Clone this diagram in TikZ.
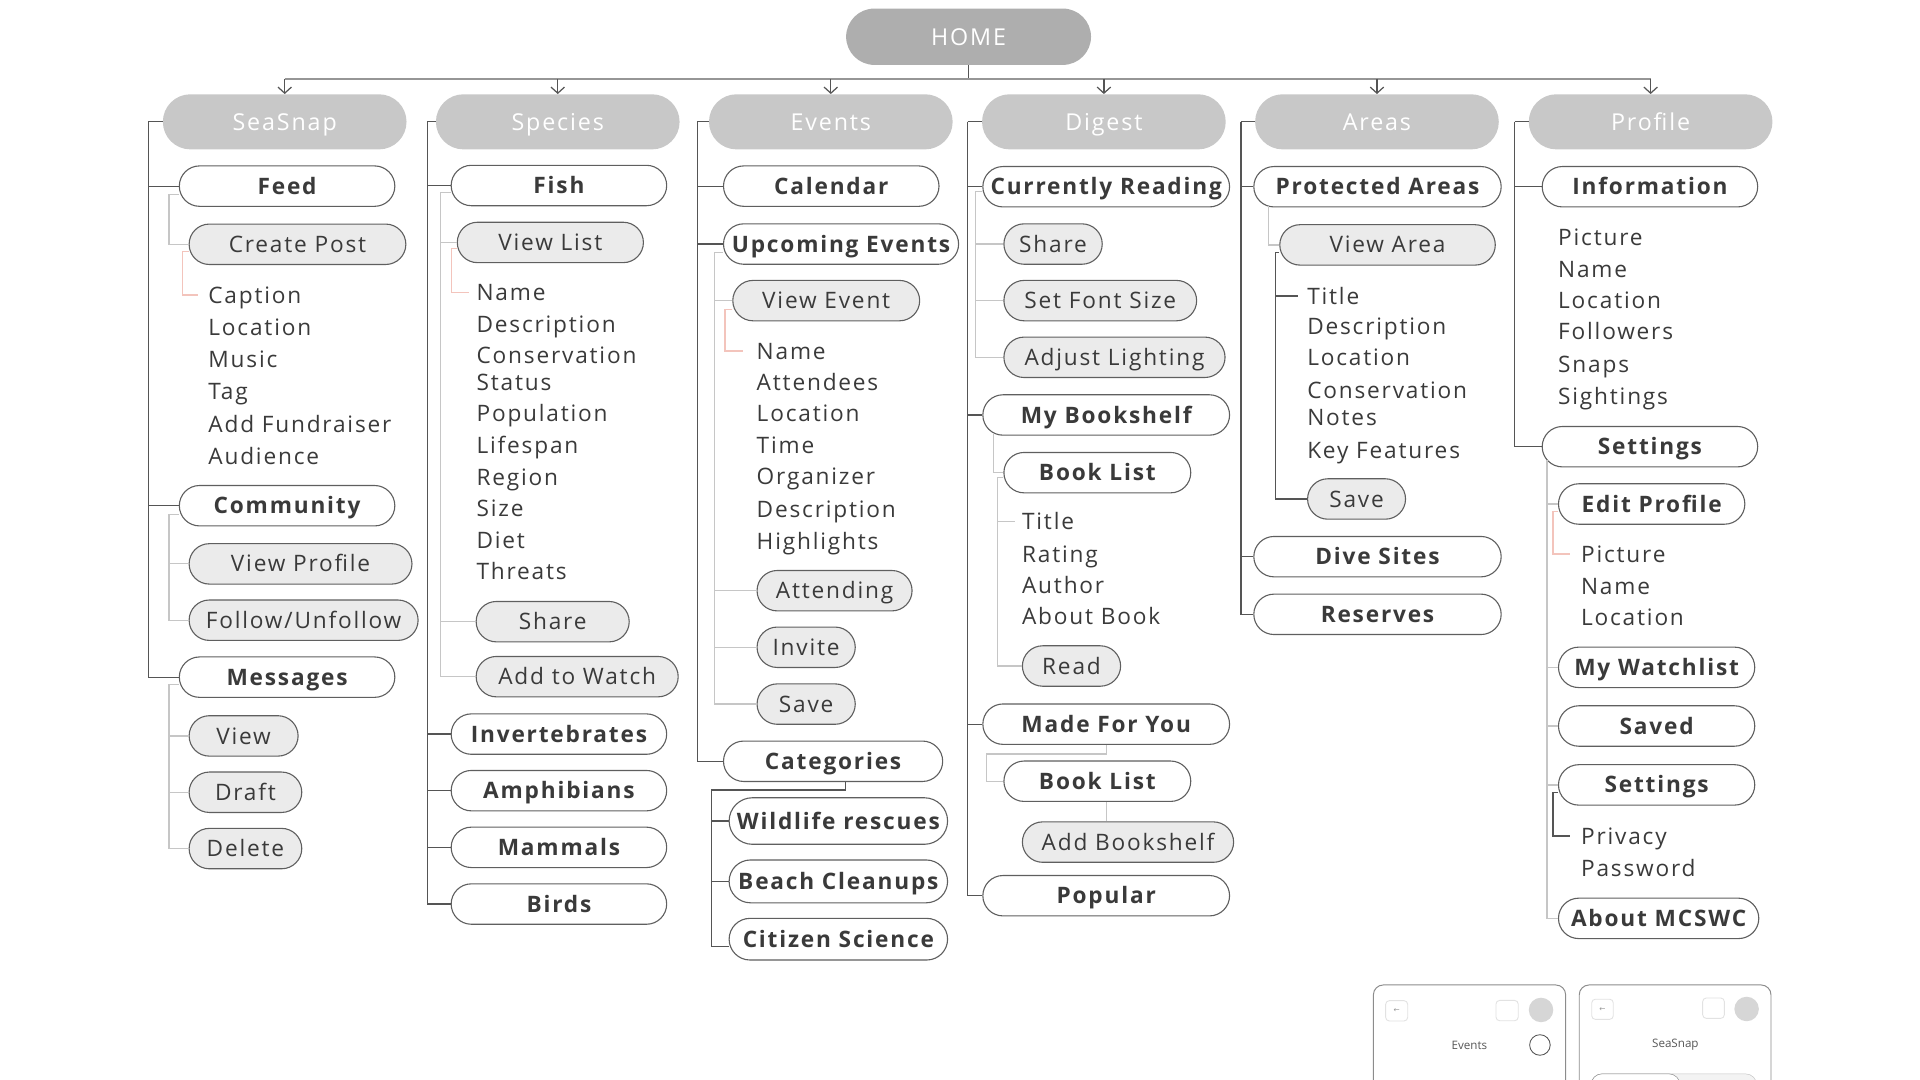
\documentclass[tikz,border=0pt]{standalone}
\usepackage{fontspec}
\IfFontExistsTF{Open Sans SemiBold}
  {\setmainfont{Open Sans}[LetterSpace=8, BoldFont={Open Sans SemiBold}]}
  {\setmainfont{Open Sans}[LetterSpace=8]}
\newfontfamily\mockfont{Open Sans}
\newfontfamily\arrowfont{DejaVu Sans}
\usepackage{tikz}
\usetikzlibrary{positioning, arrows.meta, calc}
\definecolor{ink}{RGB}{58,58,58}
\definecolor{pillline}{RGB}{95,95,95}
\definecolor{chipgrey}{RGB}{235,235,235}
\definecolor{hdrgrey}{RGB}{200,200,200}
\definecolor{homegrey}{RGB}{174,174,174}
\definecolor{trunkgrey}{RGB}{85,85,85}
\definecolor{twiggrey}{RGB}{198,198,198}
\definecolor{blushpink}{RGB}{243,196,188}
\definecolor{busgrey}{RGB}{150,150,150}
\definecolor{dotgrey}{RGB}{214,214,214}
\definecolor{btnline}{RGB}{226,226,226}
\definecolor{cardline}{RGB}{140,140,140}
\newcommand{\itemfont}{\fontsize{18.5}{22}\selectfont}
\newcommand{\hdrfont}{\fontsize{19}{23}\selectfont}

\begin{document}
\begin{tikzpicture}[x=1pt, y=-1pt,
    pill/.style={rectangle, rounded corners=16.5pt, draw=pillline, line width=0.9pt,
                 minimum height=33pt, inner xsep=6pt, text height=13.2pt, text depth=0pt,
                 anchor=west, text=ink},
    topic/.style={pill, fill=white, font=\itemfont\bfseries, minimum width=176pt},
    action/.style={pill, fill=chipgrey, font=\itemfont},
    hdr/.style={rectangle, rounded corners=22.5pt, fill=hdrgrey, text=white, font=\hdrfont,
                minimum width=199pt, minimum height=45pt, text height=13.6pt, text depth=0pt},
    field/.style={anchor=west, inner sep=0pt, font=\itemfont, text=ink,
                  text height=13.2pt, text depth=0pt},
    trunk/.style={draw=trunkgrey, line width=1pt},
    twig/.style={draw=twiggrey, line width=1pt},
    blush/.style={draw=blushpink, line width=1pt},
    arr/.style={-{Straight Barb[length=5pt, width=11pt]}, draw=trunkgrey, line width=1pt},
    card/.style={draw=cardline, line width=0.8pt, fill=white, rounded corners=8pt},
    btn/.style={draw=btnline, line width=0.7pt, rounded corners=3pt}
  ]
  \useasboundingbox (0,0) rectangle (1568,882);

  % ---------------- home ----------------
  \node[hdr, fill=homegrey, minimum width=200pt, minimum height=46pt, rounded corners=23pt] (home) at (791,30) {HOME};
  \coordinate (bus) at (791,64.5);
  \node[hdr] (sea) at (232.5,99.5) {SeaSnap};
  \node[hdr] (spec) at (455.5,99.5) {Species};
  \node[hdr] (evt) at (678.5,99.5) {Events};
  \node[hdr] (dig) at (901.5,99.5) {Digest};
  \node[hdr] (area) at (1124.5,99.5) {Areas};
  \node[hdr] (prof) at (1348,99.5) {Profile};
  \draw[trunk] (home) -- (bus);
  \draw[draw=busgrey, line width=1.8pt] (sea.north |- bus) -- (prof.north |- bus);
  \foreach \n in {sea,spec,evt,dig,area,prof} \draw[arr] (\n.north |- bus) -- (\n.north);

  % ---------------- seasnap ----------------
  \node[topic] (feed) at (146,152) {Feed};
  \node[action, minimum width=177pt] (cpost) at (154,199.5) {Create Post};
  \foreach \lbl/\yy [count=\i] in {Caption/241, Location/267, Music/293.2, Tag/319.3,
      Add Fundraiser/346.3, Audience/372.4}
    \node[field] (sn\i) at (170,\yy) {\lbl};
  \node[topic] (comm) at (146,413) {Community};
  \node[action, minimum width=182pt] (vprof) at (154,460.5) {View Profile};
  \node[action, minimum width=187pt] (follow) at (154,506.5) {Follow/Unfollow};
  \node[topic] (msg) at (146,553) {Messages};
  \node[action, minimum width=89pt] (mview) at (154,601) {View};
  \node[action, minimum width=92pt] (draft) at (154,647) {Draft};
  \node[action, minimum width=92pt] (del) at (154,693) {Delete};
  \coordinate (t1) at (121,99.5);
  \draw[trunk] (t1) -- (sea.west);
  \foreach \n in {feed,comm,msg} \draw[trunk] (t1) |- (\n.west);
  \draw[twig] ([yshift=-7pt]feed.west) -- ++(-8,0) |- (cpost.west);
  \draw[blush] ([yshift=-6pt]cpost.west) -- ++(-5,0) |- ([xshift=-8pt]sn1.west);
  \draw[twig] ([yshift=-7pt]comm.west) -- ++(-8,0) coordinate (c1) |- (follow.west);
  \draw[twig] (c1) |- (vprof.west);
  \draw[twig] ([yshift=-6pt]msg.west) -- ++(-8,0) coordinate (m1) |- (del.west);
  \foreach \n in {mview,draft} \draw[twig] (m1) |- (\n.west);

  % ---------------- species ----------------
  \node[topic] (fish) at (368,151.5) {Fish};
  \node[action, minimum width=152pt] (vlist) at (373,198) {View List};
  \foreach \lbl/\yy [count=\i] in {Name/238.7, Description/264.6, Conservation/289.9,
      Status/312.5, Population/338, Lifespan/364, Region/389.8, Size/415.1, Diet/441,
      Threats/466.3}
    \node[field] (sp\i) at (389,\yy) {\lbl};
  \node[action, minimum width=125pt] (share) at (388.4,507.7) {Share};
  \node[action, minimum width=165pt] (watch) at (388.4,552.6) {Add to Watch};
  \node[topic] (inv) at (368,599.5) {Invertebrates};
  \node[topic] (amph) at (368,645.7) {Amphibians};
  \node[topic] (mamm) at (368,692) {Mammals};
  \node[topic] (bird) at (368,738.3) {Birds};
  \coordinate (t2) at (349,99.5);
  \draw[trunk] (t2) -- (spec.west);
  \foreach \n in {fish,inv,amph,mamm,bird} \draw[trunk] (t2) |- (\n.west);
  \draw[twig] ([yshift=-5.5pt]fish.west) -- ++(-8.5,0) coordinate (f1) |- (watch.west);
  \foreach \n in {vlist,share} \draw[twig] (f1) |- (\n.west);
  \draw[blush] ([yshift=-5pt]vlist.west) -- ++(-4,0) |- ([xshift=-6pt]sp1.west);

  % ---------------- events ----------------
  \node[topic] (cal) at (590.4,152) {Calendar};
  \node[topic, minimum width=192pt] (upc) at (590.4,199.3) {Upcoming Events};
  \node[action, minimum width=152.6pt] (vevt) at (598,245.5) {View Event};
  \foreach \lbl/\yy [count=\i] in {Name/286.6, Attendees/312.2, Location/337.6, Time/363.4,
      Organizer/389.3, Description/416, Highlights/441.8}
    \node[field] (ev\i) at (617.8,\yy) {\lbl};
  \node[action, minimum width=126.6pt] (attend) at (617.8,482.4) {Attending};
  \node[action, minimum width=80.2pt] (invite) at (617.8,528.6) {Invite};
  \node[action, minimum width=80.2pt] (esave) at (617.8,575) {Save};
  \node[topic, minimum width=179pt] (cat) at (590.4,621.7) {Categories};
  \node[topic, minimum width=178.4pt, minimum height=38pt, rounded corners=19pt] (wild) at (595,670.5) {Wildlife rescues};
  \node[topic, minimum width=178.4pt, minimum height=35pt, rounded corners=17.5pt] (beach) at (595,719.8) {Beach Cleanups};
  \node[topic, minimum width=178.4pt, minimum height=34pt, rounded corners=17pt] (citsci) at (595,767) {Citizen Science};
  \coordinate (t3) at (569.5,99.5);
  \draw[trunk] (t3) -- (evt.west);
  \foreach \n in {cal,upc,cat} \draw[trunk] (t3) |- (\n.west);
  \draw[twig] ([yshift=-7pt]upc.west) -- ++(-7,0) coordinate (u1) |- (esave.west);
  \foreach \n in {vevt,attend,invite} \draw[twig] (u1) |- (\n.west);
  \draw[blush] ([yshift=-7pt]vevt.west) -- ++(-6,0) |- ([xshift=-11pt]ev1.west);
  \coordinate (k1) at (581,645.2);
  \draw[trunk] ([xshift=10pt]cat.south) |- (k1) |- ([yshift=-6pt]citsci.west);
  \foreach \n in {wild,beach} \draw[trunk] (k1) |- (\n.west);

  % ---------------- digest ----------------
  \node[topic, minimum width=201.5pt] (cread) at (802.2,152.5) {Currently Reading};
  \node[action, minimum width=80.3pt] (dshare) at (819.4,199.3) {Share};
  \node[action, minimum width=157.4pt] (fsize) at (819.4,245.5) {Set Font Size};
  \node[action, minimum width=180.6pt] (light) at (819.4,291.8) {Adjust Lighting};
  \node[topic, minimum width=201.5pt] (bshelf) at (802.2,338.9) {My Bookshelf};
  \node[topic, minimum width=152.6pt] (blist) at (819.4,386) {Book List};
  \foreach \lbl/\yy [count=\i] in {Title/426, Rating/452.4, Author/477.8, About Book/503.6}
    \node[field] (bk\i) at (834.5,\yy) {\lbl};
  \node[action, minimum width=80.2pt] (read) at (834.5,543.9) {Read};
  \node[topic, minimum width=201.5pt] (mfy) at (802.2,591.4) {Made For You};
  \node[topic, minimum width=152.6pt] (blist2) at (819.4,638) {Book List};
  \node[action, minimum width=172.5pt] (addbs) at (834.5,687.7) {Add Bookshelf};
  \node[topic, minimum width=201.5pt] (pop) at (802.2,731.5) {Popular};
  \coordinate (t4) at (790.3,99.5);
  \draw[trunk] (t4) -- (dig.west);
  \foreach \n in {cread,bshelf,mfy,pop} \draw[trunk] (t4) |- (\n.west);
  \draw[twig] ([yshift=-4pt]cread.west) -- ++(-5.6,0) coordinate (r1) |- (light.west);
  \foreach \n in {dshare,fsize} \draw[twig] (r1) |- (\n.west);
  \draw[twig] ([xshift=9pt,yshift=-14.5pt]bshelf.west) |- (blist.west);
  \draw[twig] ([yshift=-4pt]blist.west) -- ++(-4.7,0) coordinate (b1) |- (read.west);
  \draw[twig] (b1) |- ([xshift=-5.5pt]bk1.west);
  \draw[twig] (mfy.south) -- ++(0,7.4) -| ([xshift=-14pt]blist2.west) -- (blist2.west);
  \draw[twig] (blist2.south -| mfy.south) -- (addbs.north -| mfy.south);

  % ---------------- areas ----------------
  \node[topic, minimum width=202pt] (parea) at (1023.5,152.5) {Protected Areas};
  \node[action, minimum width=176pt] (varea) at (1044.7,200) {View Area};
  \foreach \lbl/\yy [count=\i] in {Title/241.7, Description/266.8, Location/292,
      Conservation/318.5, Notes/341, Key Features/367.5}
    \node[field] (ar\i) at (1067.4,\yy) {\lbl};
  \node[action, minimum width=80pt] (asave) at (1067.4,407.5) {Save};
  \node[topic, minimum width=202pt] (dive) at (1023.5,454.6) {Dive Sites};
  \node[topic, minimum width=202pt] (resv) at (1023.5,501.7) {Reserves};
  \coordinate (t5) at (1013.5,99.5);
  \draw[trunk] (t5) -- (area.west);
  \foreach \n in {parea,dive,resv} \draw[trunk] (t5) |- (\n.west);
  \draw[twig] ([xshift=12.5pt,yshift=-16pt]parea.west) |- (varea.west);
  \draw[trunk] ([yshift=-6pt]varea.west) -- ++(-3,0) coordinate (a1) |- (asave.west);
  \draw[trunk] (a1) |- ([xshift=-7pt]ar1.west);

  % ---------------- profile ----------------
  \node[topic] (info) at (1259,152.5) {Information};
  \foreach \lbl/\yy [count=\i] in {Picture/194, Name/219.7, Location/245, Followers/270.9,
      Snaps/298, Sightings/324}
    \node[field] (pf\i) at (1272.3,\yy) {\lbl};
  \node[topic] (pset) at (1259,364.8) {Settings};
  \node[topic, minimum width=152.2pt] (eprof) at (1272.3,411.6) {Edit Profile};
  \foreach \lbl/\yy [count=\i] in {Picture/452.4, Name/478.6, Location/504.2}
    \node[field] (ep\i) at (1291,\yy) {\lbl};
  \node[topic, minimum width=160.3pt] (wlist) at (1272.3,545) {My Watchlist};
  \node[topic, minimum width=160.3pt] (saved) at (1272.3,592.9) {Saved};
  \node[topic, minimum width=160.3pt] (pset2) at (1272.3,641) {Settings};
  \foreach \lbl/\yy [count=\i] in {Privacy/682.7, Password/709}
    \node[field] (st\i) at (1291,\yy) {\lbl};
  \node[topic, minimum width=163.6pt] (about) at (1272.3,750) {About MCSWC};
  \coordinate (t6) at (1237,99.5);
  \draw[trunk] (t6) -- (prof.west);
  \foreach \n in {info,pset} \draw[trunk] (t6) |- (\n.west);
  \coordinate (s1) at ([xshift=4.4pt,yshift=-11.2pt]pset.west);
  \foreach \n in {eprof,wlist,saved,pset2,about} \draw[twig] (s1) |- (\n.west);
  \draw[blush] ([yshift=-6pt]eprof.west) -- ++(-4,0) |- ([xshift=-9pt]ep1.west);
  \draw[trunk] ([yshift=-6pt]pset2.west) -- ++(-4,0) |- ([xshift=-9pt]st1.west);

  % ---------------- screen mockups ----------------
  \begin{scope}
  \clip (0,0) rectangle (1568,882);
  \draw[card] (1121.6,804.4) rectangle (1278.6,920);
  \draw[btn] (1131.6,817.2) rectangle (1149.6,833.8);
  \node[font=\arrowfont\fontsize{6}{7}\selectfont, text=busgrey] (back1) at (1140.6,825.5) {←};
  \draw[btn] (1221.7,817) rectangle (1239.9,833.6);
  \fill[dotgrey] (1258.5,824.8) circle (10pt);
  \node[font=\mockfont\fontsize{9.5}{11}\selectfont, text=ink!85] (mk1) at (1200,853.4) {Events};
  \draw[draw=trunkgrey, line width=0.7pt] (1257.6,853.4) circle (8.4pt);
  \draw[card] (1289.7,804.4) rectangle (1446.3,920);
  \draw[btn] (1299.9,816) rectangle (1317.5,832.5);
  \node[font=\arrowfont\fontsize{6}{7}\selectfont, text=busgrey] (back2) at (1308.7,824.3) {←};
  \draw[btn] (1390.5,815) rectangle (1408.2,831.7);
  \fill[dotgrey] (1426.4,824) circle (10pt);
  \node[font=\mockfont\fontsize{9.5}{11}\selectfont, text=ink!85] (mk2) at (1368.2,853.4) {SeaSnap};
  \draw[draw=twiggrey, fill=chipgrey!60, rounded corners=9pt] (1299.3,877) rectangle (1434.6,910);
  \draw[draw=cardline, fill=white, rounded corners=9pt] (1299.3,877) rectangle (1372,910);
  \end{scope}
\end{tikzpicture}
\end{document}
